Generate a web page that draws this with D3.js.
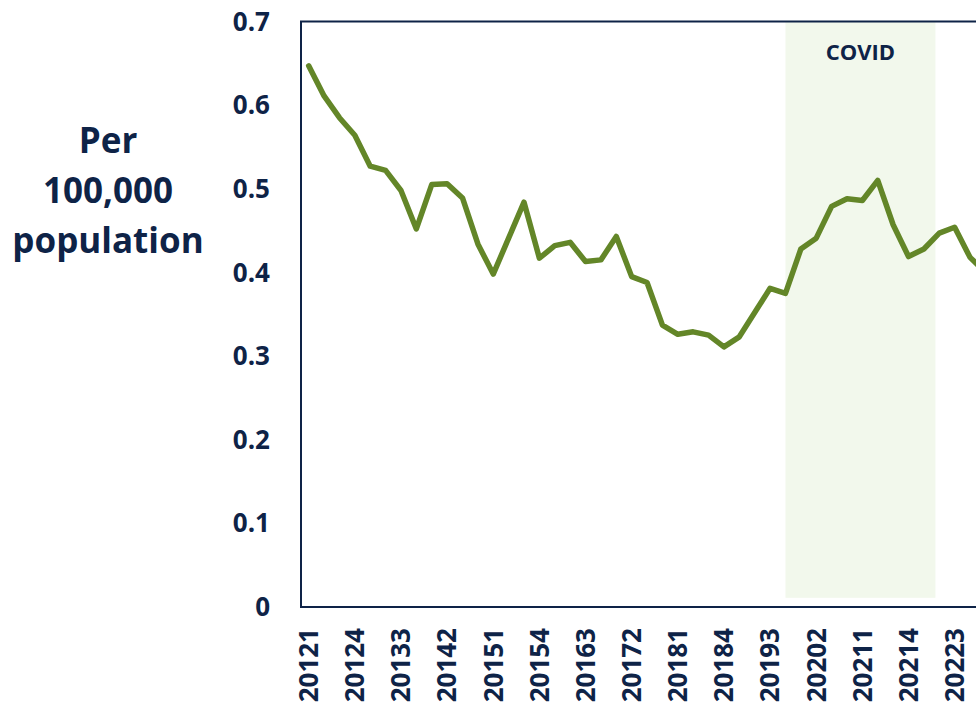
<!DOCTYPE html>
<html>
<head>
<meta charset="utf-8">
<script src="https://cdn.jsdelivr.net/npm/d3@7"></script>
<style>
	body { margin: 0; background: #ffffff; overflow: hidden; }
	text { font-family: "Open Sans", sans-serif; font-weight: bold; fill: #0e2347; }
</style>
</head>
<body>
<div id="chart"></div>
<script>
'use strict'

// quarters, yyyyq
var quarters = [
	"20121","20122","20123","20124","20131","20132","20133","20134",
	"20141","20142","20143","20144","20151","20152","20153","20154",
	"20161","20162","20163","20164","20171","20172","20173","20174",
	"20181","20182","20183","20184","20191","20192","20193","20194",
	"20201","20202","20203","20204","20211","20212","20213","20214",
	"20221","20222","20223","20224","20231"
];

// rate per 100,000 population
var rates = [
	0.647, 0.611, 0.585, 0.564, 0.527, 0.522, 0.498, 0.452,
	0.505, 0.506, 0.489, 0.434, 0.398, 0.441, 0.484, 0.417,
	0.432, 0.436, 0.413, 0.415, 0.443, 0.395, 0.388, 0.337,
	0.326, 0.329, 0.325, 0.311, 0.323, 0.352, 0.381, 0.375,
	0.428, 0.441, 0.479, 0.488, 0.486, 0.510, 0.457, 0.419,
	0.428, 0.447, 0.454, 0.418, 0.400
];

var yTicks = [0, 0.1, 0.2, 0.3, 0.4, 0.5, 0.6, 0.7];
var titleLines = ["Per", "100,000", "population"];
var covidPeriod = ["20194", "20222"];
var covidRange = [0.011, 0.7];

function generateChart(){

	var width = 976;
	var height = 711;
	var step = 15.38;
	var left = 301;

	var svg = d3.select("#chart")
		.html('')
		.append('svg')
		.attr("width", width)
		.attr("height", height);

	var x = d3.scaleBand()
		.domain(quarters)
		.range([left, left + quarters.length * step])
		.padding(0);

	var y = d3.scaleLinear()
		.domain([0, 0.7])
		.range([607, 21.5]);

	var bw = x.bandwidth();

	// bande COVID (du milieu de 20194 jusqu'au début de 20222)
	var cx0 = x(covidPeriod[0]) + bw / 2;
	var cx1 = x(covidPeriod[1]) + bw / 4;
	svg.append("rect")
		.attr("x", cx0)
		.attr("y", y(covidRange[1]))
		.attr("width", cx1 - cx0)
		.attr("height", y(covidRange[0]) - y(covidRange[1]))
		.style("fill", "#f2f8ec");

	svg.append("text")
		.attr("x", (cx0 + cx1) / 2)
		.attr("y", 60)
		.attr("text-anchor", "middle")
		.style("font-size", "22px")
		.text("COVID");

	// cadre
	svg.append("path")
		.attr("d", "M" + width + "," + y(0.7) + "H" + left + "V" + y(0) + "H" + width)
		.style("fill", "none")
		.style("stroke", "#0e2347")
		.style("stroke-width", 2);

	// axe y
	svg.append("g")
		.selectAll("text")
		.data(yTicks)
		.enter()
		.append("text")
			.attr("x", 270)
			.attr("y", d => y(d))
			.attr("dy", "0.35em")
			.attr("text-anchor", "end")
			.style("font-size", "26px")
			.text(d => d === 0 ? "0" : d3.format(".1f")(d));

	// axe x, une étiquette sur trois
	svg.append("g")
		.selectAll("text")
		.data(quarters.filter((q, i) => i % 3 === 0))
		.enter()
		.append("text")
			.attr("transform", d => "translate(" + (x(d) + bw / 2) + ",628) rotate(-90)")
			.attr("dy", "0.36em")
			.attr("text-anchor", "end")
			.style("font-size", "26px")
			.text(d => d);

	// titre de l'axe y
	svg.append("text")
		.attr("x", 108)
		.attr("y", 153)
		.attr("text-anchor", "middle")
		.style("font-size", "35px")
		.selectAll("tspan")
		.data(titleLines)
		.enter()
		.append("tspan")
			.attr("x", 108)
			.attr("dy", (d, i) => i === 0 ? 0 : 50)
			.text(d => d);

	// courbe
	var line = d3.line()
		.x((d, i) => x(quarters[i]) + bw / 2)
		.y(d => y(d));

	svg.append("path")
		.datum(rates)
		.attr("d", line)
		.style("fill", "none")
		.style("stroke", "#638628")
		.style("stroke-width", 5.5)
		.style("stroke-linejoin", "round")
		.style("stroke-linecap", "round");
}

generateChart();
</script>
</body>
</html>
